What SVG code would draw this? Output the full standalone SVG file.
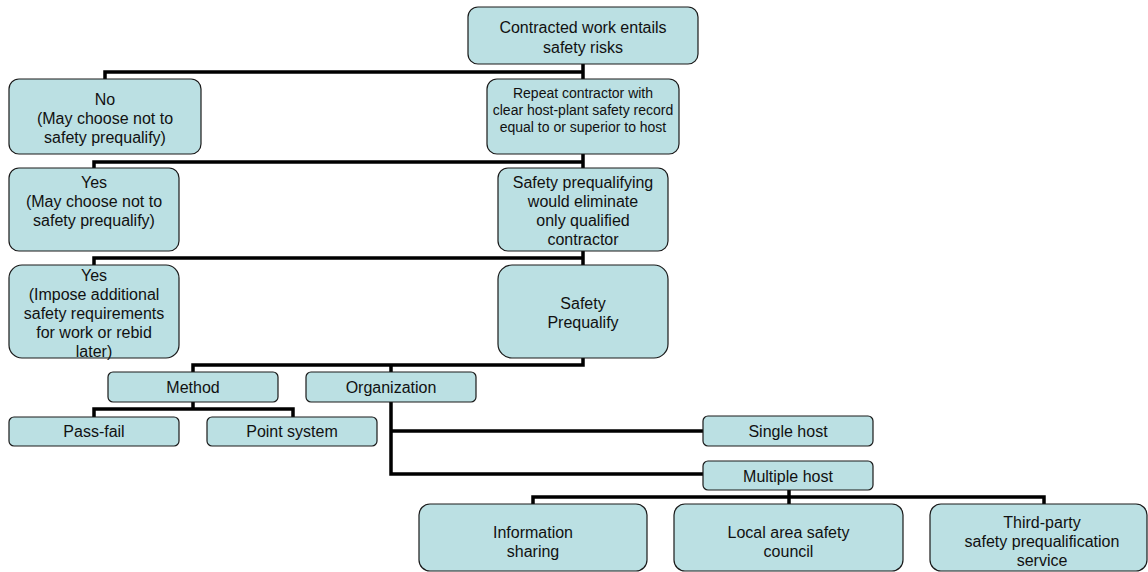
<svg xmlns="http://www.w3.org/2000/svg" width="1148" height="572" viewBox="0 0 1148 572">
<style>
.box{fill:#BBE0E3;stroke:#1a1a1a;stroke-width:1.2}
.t{font-family:"Liberation Sans",Arial,sans-serif;font-size:16px;fill:#111;text-anchor:middle}
.s{font-size:14px}
.c{fill:none;stroke:#000;stroke-width:3.5;stroke-linejoin:miter}
</style>
<rect width="1148" height="572" fill="#fff"/>
<g id="connectors">
<path class="c" d="M105,79 V72 H583 M583,64 V79"/>
<path class="c" d="M94,168 V162 H583 M583,154 V168"/>
<path class="c" d="M94,265 V258 H583 M583,251 V265"/>
<path class="c" d="M583,358 V365 H193 V372 M391,365 V372"/>
<path class="c" d="M193,402 V409 M94,417 V409 H293 V417"/>
<path class="c" d="M391,402 V474 H704 M391,431 H704"/>
<path class="c" d="M789,490 V504 M533,504 V497 H1044 V504"/>
</g>
<g id="n-top"><rect class="box" x="468" y="7" width="230" height="57" rx="10"/>
<text class="t" x="583" y="33">Contracted work entails</text><text class="t" x="583" y="53">safety risks</text></g>
<g id="n-no"><rect class="box" x="9" y="79" width="192" height="75" rx="10"/>
<text class="t" x="105" y="105">No</text><text class="t" x="105" y="124">(May choose not to</text><text class="t" x="105" y="143">safety prequalify)</text></g>
<g id="n-repeat"><rect class="box" x="487" y="79" width="192" height="75" rx="10"/>
<text class="t s" x="583" y="98">Repeat contractor with</text><text class="t s" x="583" y="115">clear host-plant safety record</text><text class="t s" x="583" y="132">equal to or superior to host</text></g>
<g id="n-yes1"><rect class="box" x="9" y="168" width="170" height="83" rx="10"/>
<text class="t" x="94" y="188">Yes</text><text class="t" x="94" y="207">(May choose not to</text><text class="t" x="94" y="226">safety prequalify)</text></g>
<g id="n-elim"><rect class="box" x="498" y="168" width="170" height="83" rx="10"/>
<text class="t" x="583" y="188">Safety prequalifying</text><text class="t" x="583" y="207">would eliminate</text><text class="t" x="583" y="226">only qualified</text><text class="t" x="583" y="245">contractor</text></g>
<g id="n-yes2"><rect class="box" x="9" y="265" width="170" height="93" rx="13"/>
<text class="t" x="94" y="281">Yes</text><text class="t" x="94" y="300">(Impose additional</text><text class="t" x="94" y="319">safety requirements</text><text class="t" x="94" y="338">for work or rebid</text><text class="t" x="94" y="357">later)</text></g>
<g id="n-sp"><rect class="box" x="498" y="265" width="170" height="93" rx="14"/>
<text class="t" x="583" y="309">Safety</text><text class="t" x="583" y="328">Prequalify</text></g>
<g id="n-method"><rect class="box" x="108" y="372" width="170" height="30" rx="5"/>
<text class="t" x="193" y="393">Method</text></g>
<g id="n-org"><rect class="box" x="306" y="372" width="170" height="30" rx="5"/>
<text class="t" x="391" y="393">Organization</text></g>
<g id="n-pass"><rect class="box" x="9" y="417" width="170" height="29" rx="5"/>
<text class="t" x="94" y="437">Pass-fail</text></g>
<g id="n-point"><rect class="box" x="207" y="417" width="170" height="29" rx="5"/>
<text class="t" x="292" y="437">Point system</text></g>
<g id="n-single"><rect class="box" x="703" y="416" width="170" height="30" rx="5"/>
<text class="t" x="788" y="437">Single host</text></g>
<g id="n-multi"><rect class="box" x="703" y="461" width="170" height="29" rx="5"/>
<text class="t" x="788" y="482">Multiple host</text></g>
<g id="n-info"><rect class="box" x="419" y="504" width="228" height="67" rx="11"/>
<text class="t" x="533" y="538">Information</text><text class="t" x="533" y="557">sharing</text></g>
<g id="n-local"><rect class="box" x="674" y="504" width="229" height="67" rx="11"/>
<text class="t" x="788.5" y="538">Local area safety</text><text class="t" x="788.5" y="557">council</text></g>
<g id="n-third"><rect class="box" x="930" y="504" width="217" height="67" rx="11"/>
<text class="t" x="1042" y="528">Third-party</text><text class="t" x="1042" y="547">safety prequalification</text><text class="t" x="1042" y="566">service</text></g>
</svg>
